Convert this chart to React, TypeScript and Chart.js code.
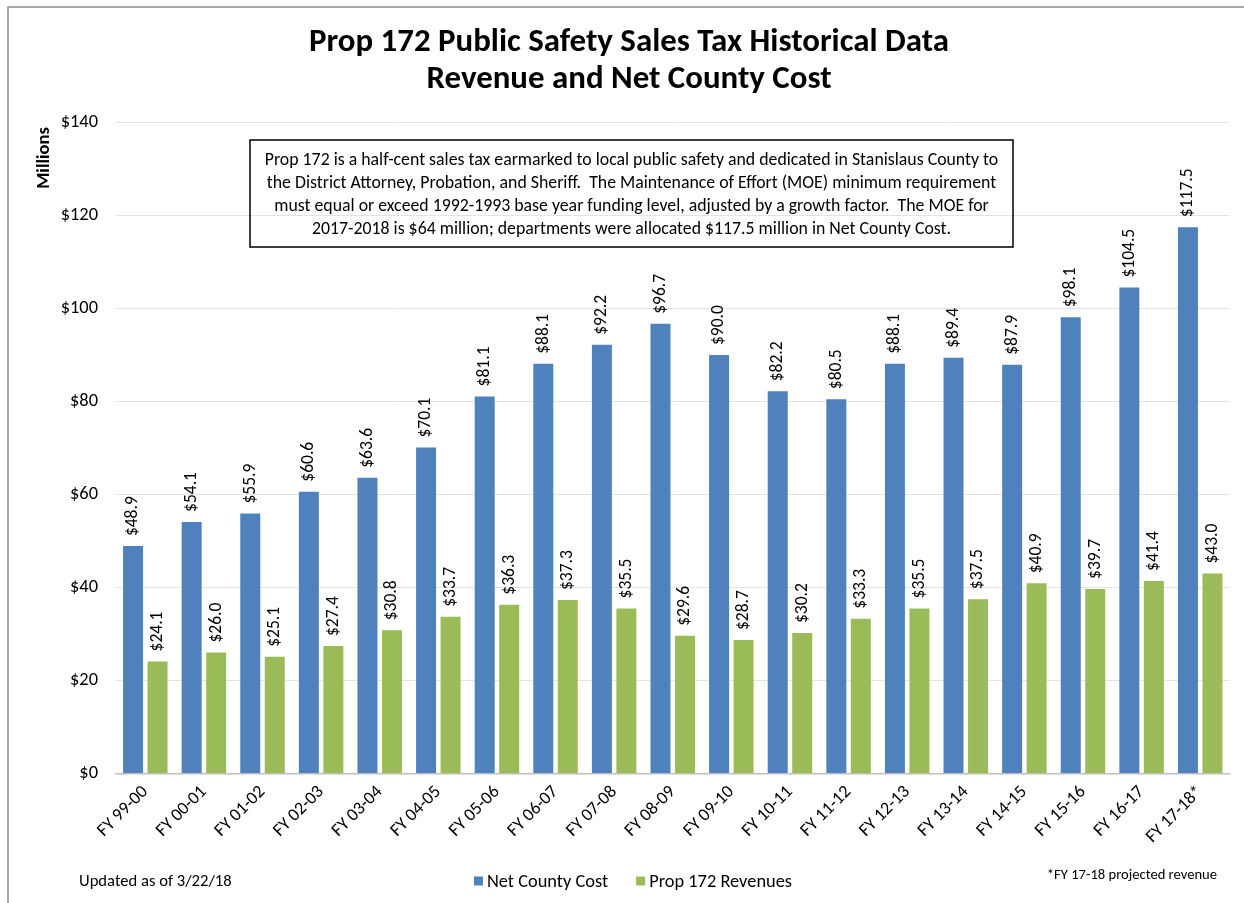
import React, { useEffect, useRef } from 'react';
import { Chart, registerables } from 'chart.js';

Chart.register(...registerables);

const categories = [
  'FY 99-00', 'FY 00-01', 'FY 01-02', 'FY 02-03', 'FY 03-04', 'FY 04-05', 'FY 05-06',
  'FY 06-07', 'FY 07-08', 'FY 08-09', 'FY 09-10', 'FY 10-11', 'FY 11-12', 'FY 12-13',
  'FY 13-14', 'FY 14-15', 'FY 15-16', 'FY 16-17', 'FY 17-18*',
];
const netCountyCost = [48.9, 54.1, 55.9, 60.6, 63.6, 70.1, 81.1, 88.1, 92.2, 96.7, 90.0, 82.2, 80.5, 88.1, 89.4, 87.9, 98.1, 104.5, 117.5];
const prop172Revenues = [24.1, 26.0, 25.1, 27.4, 30.8, 33.7, 36.3, 37.3, 35.5, 29.6, 28.7, 30.2, 33.3, 35.5, 37.5, 40.9, 39.7, 41.4, 43.0];
const seriesNames = ['Net County Cost', 'Prop 172 Revenues'];
const seriesColors = ['#4F81BD', '#9BBB59'];
const yMin = 0;
const yMax = 140;
const yStep = 20;

const titleLines = ['Prop 172 Public Safety Sales Tax Historical Data', 'Revenue and Net County Cost'];
const noteLines = [
  'Prop 172 is a half-cent sales tax earmarked to local public safety and dedicated in Stanislaus County to',
  'the District Attorney, Probation, and Sheriff.  The Maintenance of Effort (MOE) minimum requirement',
  'must equal or exceed 1992-1993 base year funding level, adjusted by a growth factor.  The MOE for',
  '2017-2018 is $64 million; departments were allocated $117.5 million in Net County Cost.',
];
const yAxisTitle = 'Millions';
const updatedText = 'Updated as of 3/22/18';
const footnoteText = '*FY 17-18 projected revenue';

const FONT = 'Carlito, Lato, "Open Sans", sans-serif';

function drawScaled(ctx: CanvasRenderingContext2D, text: string, x: number, y: number, sx: number) {
  ctx.save();
  ctx.translate(x, y);
  ctx.scale(sx, 1);
  ctx.fillText(text, 0, 0);
  ctx.restore();
}

const overlayPlugin = {
  id: 'overlay',
  beforeDraw(chart: any) {
    const ctx: CanvasRenderingContext2D = chart.ctx;
    ctx.save();
    ctx.fillStyle = '#ffffff';
    ctx.fillRect(0, 0, chart.width, chart.height);
    ctx.strokeStyle = '#8c8c8c';
    ctx.lineWidth = 1.5;
    ctx.beginPath();
    ctx.moveTo(8, chart.height);
    ctx.lineTo(8, 7);
    ctx.lineTo(chart.width, 7);
    ctx.stroke();
    ctx.restore();
  },
  afterDraw(chart: any) {
    const ctx: CanvasRenderingContext2D = chart.ctx;
    ctx.save();
    ctx.fillStyle = '#000';
    ctx.textBaseline = 'middle';

    // Title
    ctx.font = `bold 33px ${FONT}`;
    ctx.textAlign = 'center';
    const tW = ctx.measureText(titleLines[0]).width;
    const tsx = Math.min(1, 640 / tW);
    drawScaled(ctx, titleLines[0], 629, 43, tsx);
    drawScaled(ctx, titleLines[1], 629, 80, tsx);

    // Note box
    ctx.strokeStyle = '#000';
    ctx.lineWidth = 1.5;
    ctx.strokeRect(250, 140, 763, 107);
    ctx.font = `17.8px ${FONT}`;
    const nW = ctx.measureText(noteLines[0]).width;
    const nsx = Math.min(1, 736 / nW);
    noteLines.forEach((l, i) => drawScaled(ctx, l, 631.5, 161 + i * 23, nsx));

    // Y axis title
    ctx.save();
    ctx.translate(44, 158);
    ctx.rotate(-Math.PI / 2);
    ctx.font = `bold 18.5px ${FONT}`;
    ctx.textAlign = 'center';
    ctx.fillText(yAxisTitle, 0, 0);
    ctx.restore();

    // Updated text
    ctx.font = `16.6px ${FONT}`;
    ctx.textAlign = 'left';
    ctx.fillText(updatedText, 79, 882);

    // Footnote
    ctx.font = `14.6px ${FONT}`;
    ctx.textAlign = 'right';
    ctx.fillText(footnoteText, 1217, 875);

    // Legend
    ctx.font = `18.4px ${FONT}`;
    ctx.textAlign = 'left';
    const box = 9;
    const gapBox = 4;
    const gapItem = 28;
    const widths = seriesNames.map((n) => ctx.measureText(n).width);
    const total = widths.reduce((a, w) => a + box + gapBox + w, 0) + gapItem * (seriesNames.length - 1);
    let lx = 633 - total / 2;
    const ly = 881;
    seriesNames.forEach((n, i) => {
      ctx.fillStyle = seriesColors[i];
      ctx.fillRect(lx, ly - box / 2, box, box);
      ctx.fillStyle = '#000';
      ctx.fillText(n, lx + box + gapBox, ly + 1);
      lx += box + gapBox + widths[i] + gapItem;
    });

    // Data labels
    ctx.font = `17.5px ${FONT}`;
    ctx.fillStyle = '#000';
    chart.data.datasets.forEach((ds: any, di: number) => {
      const meta = chart.getDatasetMeta(di);
      meta.data.forEach((bar: any, i: number) => {
        const v = ds.data[i];
        ctx.save();
        ctx.translate(bar.x, bar.y - 10);
        ctx.rotate(-Math.PI / 2);
        ctx.textAlign = 'left';
        ctx.textBaseline = 'middle';
        ctx.fillText('$' + v.toFixed(1), 0, 0);
        ctx.restore();
      });
    });
    ctx.restore();
  },
};

export default function App() {
  const ref = useRef<HTMLCanvasElement>(null);
  useEffect(() => {
    if (!ref.current) return;
    const chart = new Chart(ref.current, {
      type: 'bar',
      data: {
        labels: categories,
        datasets: [
          { label: seriesNames[0], data: netCountyCost, backgroundColor: seriesColors[0], categoryPercentage: 0.836, barPercentage: 0.816 },
          { label: seriesNames[1], data: prop172Revenues, backgroundColor: seriesColors[1], categoryPercentage: 0.836, barPercentage: 0.816 },
        ],
      },
      options: {
        responsive: false,
        animation: false,
        layout: { padding: { top: 122.5, right: 14.5, left: 0, bottom: 0 } },
        plugins: { legend: { display: false }, title: { display: false }, tooltip: { enabled: false } },
        scales: {
          x: {
            grid: { display: false, drawTicks: false },
            border: { display: true, color: '#bfbfbf', width: 1.5 },
            ticks: {
              autoSkip: false,
              minRotation: 45,
              maxRotation: 45,
              padding: 8,
              color: '#000',
              font: { family: FONT, size: 18 },
            },
            afterFit: (scale: any) => { scale.height = 129.5; },
          },
          y: {
            min: yMin,
            max: yMax,
            ticks: {
              stepSize: yStep,
              padding: 18,
              color: '#000',
              font: { family: FONT, size: 18.4 },
              callback: (v: any) => '$' + v,
            },
            grid: { color: '#e3e3e3', lineWidth: 1, drawTicks: false },
            border: { display: false },
            afterFit: (scale: any) => { scale.width = 116; },
          },
        },
      },
      plugins: [overlayPlugin],
    });
    return () => chart.destroy();
  }, []);
  return (
    <div style={{ position: 'absolute', left: 0, top: 0, width: 1244, height: 903, background: '#fff' }}>
      <canvas ref={ref} width={1244} height={903} style={{ display: 'block' }} />
    </div>
  );
}
